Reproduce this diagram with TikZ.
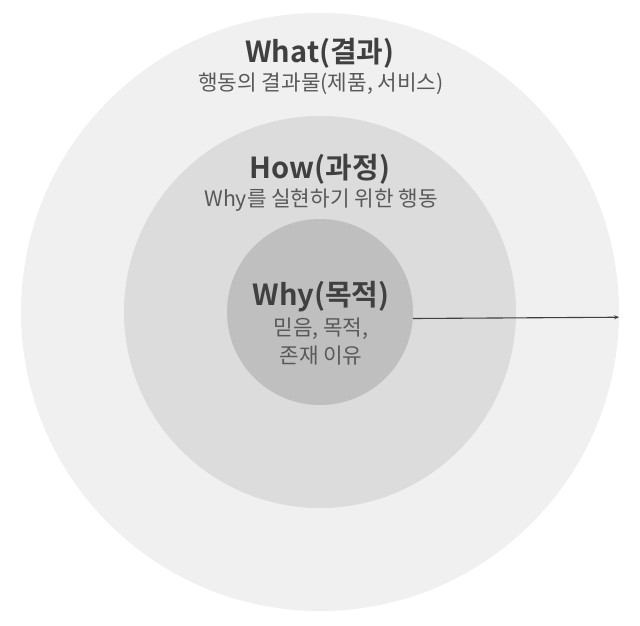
\documentclass[tikz,border=0pt]{standalone}
\usepackage{fontspec}
\setmainfont{Noto Sans CJK KR}[BoldFont={Noto Sans CJK KR Bold}]
\usetikzlibrary{arrows.meta}
\definecolor{ringouter}{HTML}{F0F0F0}
\definecolor{ringmiddle}{HTML}{DCDCDC}
\definecolor{ringinner}{HTML}{BFBFBF}
\definecolor{titlegray}{HTML}{404040}
\definecolor{subgray}{HTML}{595959}
\begin{document}
\begin{tikzpicture}[x=1pt, y=-1pt,
	ring/.style={circle, draw=none, inner sep=0pt},
	title/.style={font=\bfseries\fontsize{29}{31}\selectfont, text=titlegray, anchor=base, inner sep=0pt},
	sub/.style={font=\fontsize{21.3}{25}\selectfont, text=subgray, anchor=base, inner sep=0pt}]

	\useasboundingbox (0,0) rectangle (640,625);

	\node [ring, fill=ringouter, minimum size=598pt] (what) at (320,312) {};
	\node [ring, fill=ringmiddle, minimum size=392pt] (how) at (320,312) {};
	\node [ring, fill=ringinner, minimum size=186pt] (why) at (320,312) {};

	\node [title] (whattitle) at (320,62) {What(결과)};
	\node [sub] (whatsub) at (321,90) {행동의 결과물(제품, 서비스)};

	\node [title] (howtitle) at (320,178) {How(과정)};
	\node [sub] (howsub) at (321,206) {Why를 실현하기 위한 행동};

	\node [title] (whytitle) at (321,305) {Why(목적)};
	\node [sub] (whysubone) at (321,335) {믿음, 목적,};
	\node [sub] (whysubtwo) at (321,363) {존재 이유};

	\draw [titlegray, line width=1.1pt, -{Stealth[length=5pt, width=4pt]}] (why.-4) -- (what.-1.3);
\end{tikzpicture}
\end{document}
